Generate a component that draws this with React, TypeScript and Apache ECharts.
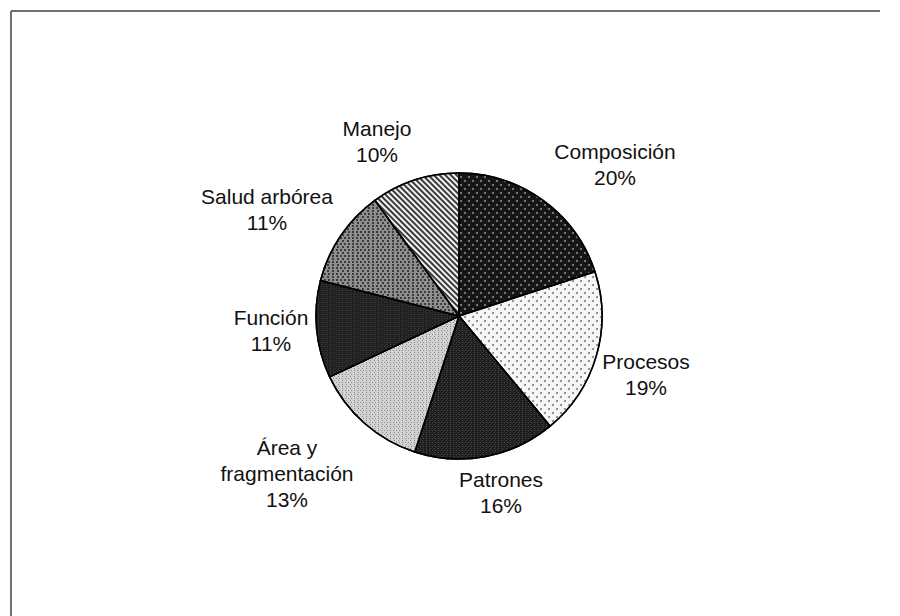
import React, { useEffect, useRef } from "react";
import * as echarts from "echarts";

const CATEGORIES = ["Composición", "Procesos", "Patrones", "Área y fragmentación", "Función", "Salud arbórea", "Manejo"];
const VALUES = [20, 19, 16, 13, 11, 11, 10];

// visual styling (not data)
const BASE_COLORS = ["#151515", "#f7f7f7", "#1f1f1f", "#d2d2d2", "#202020", "#8e8e8e", "#f2f2f2"];
const CENTER_X = 459;
const CENTER_Y = 316;
const RADIUS = 143;
// label block centres relative to the pie centre
const LABEL_DX = [156, 187, 42, -172, -188, -192, -82];
const LABEL_DY = [-152, 58, 176, 157, 14, -107, -175];

const DECALS: any[] = [
  { symbol: "circle", symbolSize: 1, color: "#8a8a8a", dashArrayX: [[1.6, 5.4], [0, 3.5, 1.6, 1.9]], dashArrayY: [1.6, 1.9], rotation: 0 },
  { symbol: "circle", symbolSize: 1, color: "#7c7c7c", dashArrayX: [[1.6, 5.4], [0, 3.5, 1.6, 1.9]], dashArrayY: [1.6, 1.9], rotation: 0 },
  { symbol: "rect", symbolSize: 1, color: "#4a4a4a", dashArrayX: [[1, 2], [0, 1.5, 1, 0.5]], dashArrayY: [1, 0.5], rotation: 0 },
  { symbol: "rect", symbolSize: 1, color: "#8a8a8a", dashArrayX: [[1, 2], [0, 1.5, 1, 0.5]], dashArrayY: [1, 0.5], rotation: 0 },
  { symbol: "rect", symbolSize: 1, color: "#424242", dashArrayX: [[1, 2], [0, 1.5, 1, 0.5]], dashArrayY: [1, 0.5], rotation: 0 },
  { symbol: "rect", symbolSize: 1, color: "#3c3c3c", dashArrayX: [[1.2, 1.8], [0, 1.5, 1.2, 0.3]], dashArrayY: [1.2, 0.3], rotation: 0 },
  { symbol: "rect", symbolSize: 1, color: "#3a3a3a", dashArrayX: [1, 0], dashArrayY: [1.3, 1.7], rotation: Math.PI / 4 },
];

export default function App() {
  const ref = useRef<HTMLDivElement>(null);
  useEffect(() => {
    document.body.style.margin = "0";
    document.body.style.overflow = "hidden";
    const chart = echarts.init(ref.current!, undefined, { renderer: "svg" });
    chart.setOption({
      animation: false,
      backgroundColor: "#ffffff",
      graphic: [
        {
          type: "line",
          shape: { x1: 11, y1: 11, x2: 880, y2: 11 },
          style: { stroke: "#707070", lineWidth: 2 },
          silent: true,
        },
        {
          type: "line",
          shape: { x1: 11, y1: 11, x2: 11, y2: 616 },
          style: { stroke: "#707070", lineWidth: 2 },
          silent: true,
        },
      ],
      series: [
        {
          type: "pie",
          center: [CENTER_X, CENTER_Y],
          radius: RADIUS,
          startAngle: 90,
          clockwise: true,
          avoidLabelOverlap: false,
          itemStyle: { borderColor: "#000000", borderWidth: 1.5 },
          labelLine: { show: false },
          label: {
            show: true,
            position: "outside",
            fontFamily: "Liberation Sans, Arial, sans-serif",
            fontSize: 21,
            lineHeight: 26,
            color: "#111111",
            align: "center",
            formatter: (p: any) => `${String(p.name).replace("Área y ", "Área y\n")}\n${p.value}%`,
          },
          labelLayout: (p: any) => ({
            x: CENTER_X + LABEL_DX[p.dataIndex],
            y: CENTER_Y + LABEL_DY[p.dataIndex],
            align: "center",
            verticalAlign: "middle",
          }),
          emphasis: { disabled: true },
          data: CATEGORIES.map((name, i) => ({
            name,
            value: VALUES[i],
            itemStyle: { color: BASE_COLORS[i], decal: DECALS[i] },
          })),
        },
      ],
    });
    return () => chart.dispose();
  }, []);
  return (
    <div style={{ position: "fixed", left: 0, top: 0, width: 900, height: 616, overflow: "hidden", background: "#fff" }}>
      <div ref={ref} style={{ width: 900, height: 616 }} />
    </div>
  );
}
